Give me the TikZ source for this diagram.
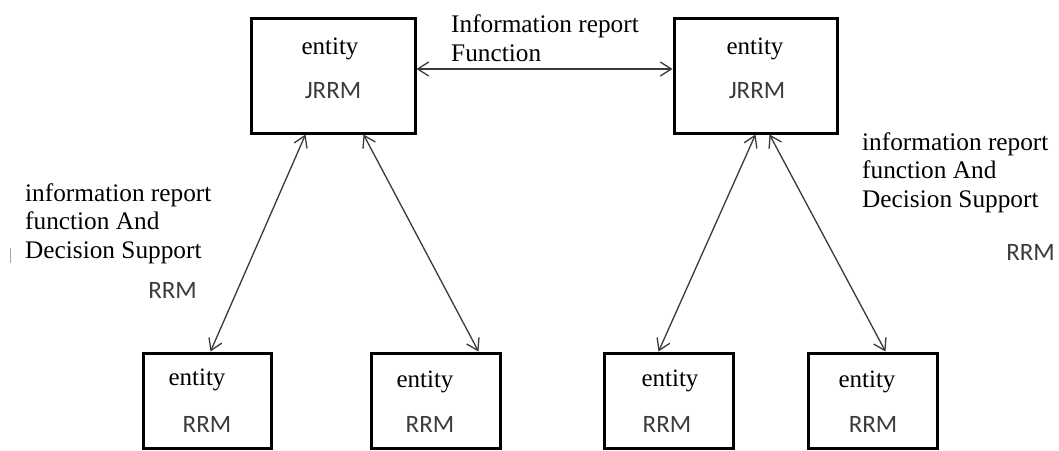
\documentclass[tikz,border=0pt]{standalone}
\usepackage{fontspec}
\setmainfont{Liberation Serif}
\newfontfamily\calib{Carlito}
\usetikzlibrary{arrows.meta}
\definecolor{linegray}{HTML}{3A3A3A}
\definecolor{rrmgray}{HTML}{3C3C3C}
\tikzset{
  entbox/.style={draw=black, line width=3pt, minimum width=#1, minimum height=95pt, inner sep=0pt},
  serif/.style={anchor=base, inner sep=0pt, font=\fontsize{25}{29}\selectfont},
  sanslbl/.style={anchor=base, inner sep=0pt, text=rrmgray, font=\calib\fontsize{25}{29}\selectfont},
  lbl/.style={anchor=base west, inner sep=0pt, align=left, font=\fontsize{25.3}{28.5}\selectfont},
  conn/.style={draw=linegray, line width=1.3pt, {Straight Barb[length=11pt,width=14pt]}-{Straight Barb[length=11pt,width=14pt]}}
}
\begin{document}
\begin{tikzpicture}[x=1pt,y=-1pt]
\useasboundingbox[fill=white] (0,0) rectangle (1059,450);
% top boxes
\node[entbox=164pt, minimum height=115pt] (tl) at (333,75.5) {};
\node[entbox=163pt, minimum height=115pt] (tr) at (755.5,75.5) {};
\node[serif] (tle) at (330,54) {entity};
\node[sanslbl] (tlj) at (333,98) {JRRM};
\node[serif] (tre) at (755,54) {entity};
\node[sanslbl] (trj) at (757,98) {JRRM};
% bottom boxes
\node[entbox=128pt] (b1) at (207,400.5) {};
\node[entbox=129pt] (b2) at (435.5,400.5) {};
\node[entbox=129pt] (b3) at (668.5,400.5) {};
\node[entbox=129pt] (b4) at (872.5,400.5) {};
\node[serif] (b1e) at (197,385) {entity};
\node[sanslbl] (b1r) at (207,432) {RRM};
\node[serif] (b2e) at (425,387) {entity};
\node[sanslbl] (b2r) at (430,432) {RRM};
\node[serif] (b3e) at (670,386) {entity};
\node[sanslbl] (b3r) at (667,432) {RRM};
\node[serif] (b4e) at (867,387) {entity};
\node[sanslbl] (b4r) at (873,432) {RRM};
% connectors
\draw[conn] ([yshift=6.5pt]tl.east) -- ([yshift=6.5pt]tr.west);
\draw[conn] ([xshift=56pt]tl.south west) -- ([xshift=69pt]b1.north west);
\draw[conn] ([xshift=114pt]tl.south west) -- ([xshift=109pt]b2.north west);
\draw[conn] ([xshift=83pt]tr.south west) -- ([xshift=56pt]b3.north west);
\draw[conn] ([xshift=97pt]tr.south west) -- ([xshift=79pt]b4.north west);
% labels (base anchor of a multi-line node is the last line)
\node[lbl] (toplbl) at (451,61) {Information report\\Function};
\node[lbl] (leftlbl) at (25,258) {information report\\function And\\Decision Support};
\node[sanslbl, anchor=base east] (leftrrm) at (197,298) {RRM};
\node[lbl] (rightlbl) at (862,207) {information report\\function And\\Decision Support};
\node[sanslbl, anchor=base east] (rightrrm) at (1055,260) {RRM};
% small mark at left edge
\draw[gray!70, line width=1pt] (10,248) -- (10,263);
\end{tikzpicture}
\end{document}
